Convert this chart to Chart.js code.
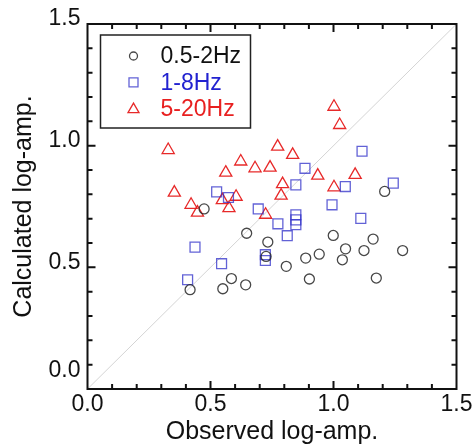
<!DOCTYPE html>
<html>
<head>
<meta charset="utf-8">
<script src="https://cdn.jsdelivr.net/npm/chart.js@4/dist/chart.umd.min.js"></script>
<style>
  body { margin: 0; background: #fff; }
</style>
</head>
<body>
<canvas id="myChart" width="475" height="447"></canvas>
<script>
// 0.5-2Hz (circles)
var lowX = [0.474, 0.647, 0.733, 0.726, 0.417, 0.550, 0.585, 0.643, 0.808, 0.887,
            0.902, 0.942, 0.999, 1.036, 1.049, 1.124, 1.161, 1.174, 1.208, 1.281];
var lowY = [0.740, 0.640, 0.604, 0.545, 0.408, 0.412, 0.454, 0.428, 0.504, 0.538,
            0.452, 0.554, 0.631, 0.531, 0.576, 0.569, 0.616, 0.456, 0.812, 0.569];
// 1-8Hz (squares)
var midX = [0.407, 0.437, 0.545, 0.525, 0.573, 0.694, 0.723, 0.723, 0.774, 0.812,
            0.847, 0.847, 0.847, 0.847, 0.884, 0.994, 1.048, 1.111, 1.116, 1.243];
var midY = [0.449, 0.583, 0.515, 0.810, 0.787, 0.740, 0.552, 0.528, 0.679, 0.630,
            0.839, 0.716, 0.695, 0.675, 0.907, 0.757, 0.832, 0.701, 0.977, 0.846];
// 5-20Hz (triangles)
var highX = [0.328, 0.353, 0.421, 0.447, 0.562, 0.548, 0.575, 0.604, 0.623, 0.681,
             0.742, 0.724, 0.773, 0.793, 0.787, 0.834, 0.936, 1.002, 1.025, 1.002, 1.088];
var highY = [0.982, 0.807, 0.757, 0.725, 0.889, 0.776, 0.743, 0.790, 0.935, 0.907,
             0.910, 0.716, 0.996, 0.842, 0.795, 0.962, 0.877, 1.160, 1.085, 0.829, 0.880];

var seriesNames = ['0.5-2Hz', '1-8Hz', '5-20Hz'];
var tickValues = [0, 0.5, 1.0, 1.5];
var diagX = [0, 1.5];
var diagY = [0, 1.5];

function toPoints(xs, ys){
    return xs.map((x, i) => ({x: x, y: ys[i]}));
}

const FONT = "'Liberation Sans', Arial, sans-serif";

// frame with inward ticks on all four sides
const frameTicks = {
    id: 'frameTicks',
    afterDatasetsDraw(chart){
        const {ctx, chartArea: a, scales: {x, y}} = chart;
        ctx.save();
        ctx.strokeStyle = '#111';
        ctx.lineWidth = 2;
        ctx.strokeRect(a.left, a.top, a.right - a.left, a.bottom - a.top);
        ctx.beginPath();
        for (let i = 1; i < 15; i++) {
            const v = i / 10;
            const len = (i % 5 === 0) ? 8 : 5;
            const px = x.getPixelForValue(v);
            const py = y.getPixelForValue(v);
            ctx.moveTo(px, a.bottom); ctx.lineTo(px, a.bottom - len);
            ctx.moveTo(px, a.top);    ctx.lineTo(px, a.top + len);
            ctx.moveTo(a.left, py);   ctx.lineTo(a.left + len, py);
            ctx.moveTo(a.right, py);  ctx.lineTo(a.right - len, py);
        }
        ctx.stroke();
        ctx.restore();
    }
};

// boxed legend in the upper left of the plot
const boxLegend = {
    id: 'boxLegend',
    afterDraw(chart){
        const {ctx, chartArea: a} = chart;
        const left = a.left + 13, top = a.top + 11;
        ctx.save();
        ctx.strokeStyle = '#222';
        ctx.lineWidth = 1.5;
        ctx.strokeRect(left, top, 150, 93);
        const textColors = ['#111', '#2222d0', '#e82020'];
        const sets = chart.data.datasets.slice(0, 3);
        sets.forEach((ds, i) => {
            const cy = top + 21 + i * 26.3;
            const cx = left + 33;
            ctx.strokeStyle = ds.borderColor;
            ctx.lineWidth = 1.3;
            ctx.beginPath();
            if (ds.pointStyle === 'circle') {
                ctx.arc(cx, cy, 4, 0, Math.PI * 2);
            } else if (ds.pointStyle === 'rect') {
                ctx.rect(cx - 4.5, cy - 4.5, 9, 9);
            } else {
                ctx.moveTo(cx, cy - 5.5);
                ctx.lineTo(cx + 5.5, cy + 4);
                ctx.lineTo(cx - 5.5, cy + 4);
                ctx.closePath();
            }
            ctx.stroke();
            ctx.fillStyle = textColors[i];
            ctx.font = '23px ' + FONT;
            ctx.textAlign = 'left';
            ctx.textBaseline = 'middle';
            ctx.fillText(ds.label, left + 60, cy + 1);
        });
        ctx.restore();
    }
};

let ctx = document.getElementById('myChart').getContext('2d');
let myChart = new Chart(ctx, {
    type: 'scatter',
    data: {
        datasets: [{
            label: seriesNames[0],
            data: toPoints(lowX, lowY),
            pointStyle: 'circle',
            pointRadius: 5,
            borderColor: 'rgba(40,40,40,0.85)',
            backgroundColor: 'rgba(0,0,0,0)',
            borderWidth: 1.3
        },
        {
            label: seriesNames[1],
            data: toPoints(midX, midY),
            pointStyle: 'rect',
            pointRadius: 7,
            borderColor: 'rgba(45,45,200,0.75)',
            backgroundColor: 'rgba(0,0,0,0)',
            borderWidth: 1.3
        },
        {
            label: seriesNames[2],
            data: toPoints(highX, highY),
            pointStyle: 'triangle',
            pointRadius: 7,
            borderColor: 'rgba(230,30,30,0.95)',
            backgroundColor: 'rgba(0,0,0,0)',
            borderWidth: 1.3
        },
        {
            type: 'line',
            label: '1:1',
            data: toPoints(diagX, diagY),
            borderColor: '#d4d4d4',
            borderWidth: 1,
            pointRadius: 0,
            order: 10
        }]
    },
    options: {
        responsive: false,
        animation: false,
        layout: { padding: { left: 0, top: 24, right: 18.5, bottom: 0 } },
        plugins: {
            legend: { display: false },
            tooltip: { enabled: false }
        },
        scales: {
            x: {
                type: 'linear',
                min: 0, max: 1.5,
                afterBuildTicks(s){ s.ticks = tickValues.map(v => ({value: v})); },
                afterFit(s){ s.height = 58; },
                grid: { display: false, drawTicks: false },
                border: { display: false },
                ticks: {
                    padding: 2,
                    color: '#111',
                    font: { family: FONT, size: 23 },
                    callback: v => v.toFixed(1)
                },
                title: {
                    display: true,
                    text: 'Observed log-amp.',
                    color: '#111',
                    font: { family: FONT, size: 25 },
                    padding: { top: 0, bottom: 0 }
                }
            },
            y: {
                type: 'linear',
                min: 0, max: 1.5,
                afterBuildTicks(s){ s.ticks = tickValues.map(v => ({value: v})); },
                afterFit(s){ s.width = 87.5; },
                grid: { display: false, drawTicks: false },
                border: { display: false },
                ticks: {
                    padding: 7,
                    labelOffset: -5,
                    color: '#111',
                    font: { family: FONT, size: 23 },
                    callback: v => v === 0 ? ['0.0', ''] : v.toFixed(1)
                },
                title: {
                    display: true,
                    text: 'Calculated log-amp.',
                    color: '#111',
                    font: { family: FONT, size: 25 },
                    padding: { top: 9, bottom: 0 }
                }
            }
        }
    },
    plugins: [frameTicks, boxLegend]
});
</script>
</body>
</html>
